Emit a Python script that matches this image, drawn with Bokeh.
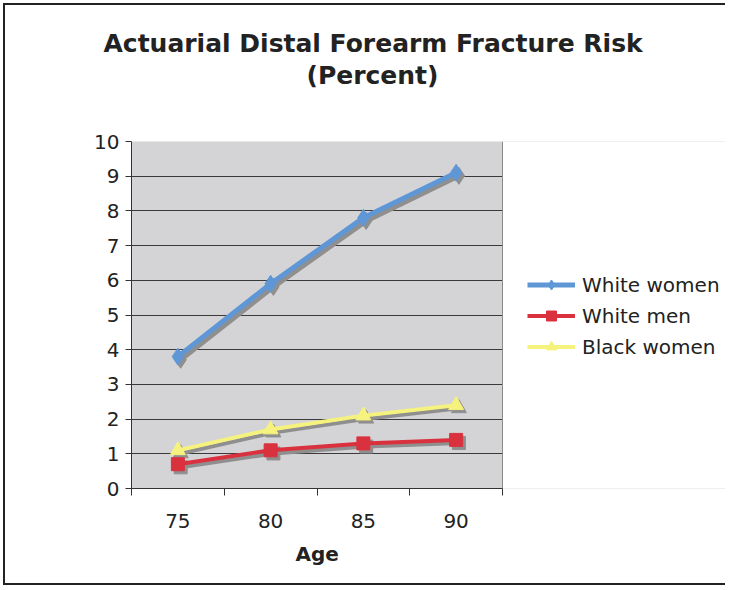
import numpy as np
from bokeh.plotting import figure
from bokeh.models import (Range1d, FixedTicker, Title, Legend, LegendItem,
                          BoxAnnotation, Span)
from bokeh.embed import file_html
from bokeh.resources import INLINE

# ---- data ----
ages = ["75", "80", "85", "90"]
white_women = [3.8, 5.9, 7.8, 9.1]
white_men = [0.7, 1.1, 1.3, 1.4]
black_women = [1.1, 1.7, 2.1, 2.4]
y_ticks = list(range(0, 11))

title_line1 = "Actuarial Distal Forearm Fracture Risk"
title_line2 = "(Percent)"
x_label = "Age"

FONT = "DejaVu Sans"

# ---- layout (pixels) ----
W, H = 722, 582
LEFT = 126
PLOT_W = 371          # width of the grey plot area
FRAME_W = W - LEFT    # frame spans to the right edge; legend sits at its right
n = len(ages)
x_end = n * FRAME_W / PLOT_W

x = np.arange(n) + 0.5
# drop-shadow offset (data units ~ 3px)
sdx, sdy = 0.03, -0.09

p = figure(width=W, height=H, output_backend="svg", toolbar_location=None,
           x_range=Range1d(0, x_end), y_range=Range1d(0, 10),
           min_border_left=LEFT, min_border_right=0, min_border_bottom=99,
           min_border_top=136, title=None)
p.styles = {"border-left": "2px solid #222", "border-top": "2px solid #222",
            "border-bottom": "2px solid #222", "border-right": "0px none",
            "margin-left": "3px", "margin-top": "3px"}

p.background_fill_color = "#d4d4d6"
p.border_fill_color = "white"
p.outline_line_color = None

# x axis: labels at category centers, tick marks at boundaries
xa = p.xaxis[0]
xa.bounds = (0, n)
xa.ticker = FixedTicker(ticks=list(x), minor_ticks=list(range(n + 1)))
xa.major_label_overrides = {float(v): a for v, a in zip(x, ages)}
xa.major_tick_out = 0
xa.major_tick_in = 0
xa.minor_tick_out = 7
xa.minor_tick_in = 0
xa.minor_tick_line_color = "#333333"
xa.axis_line_color = "#333333"
xa.major_label_standoff = 18
xa.major_label_text_font = FONT
xa.major_label_text_font_size = "20px"
xa.major_label_text_color = "#222222"

ya = p.yaxis[0]
ya.ticker = FixedTicker(ticks=y_ticks, minor_ticks=[])
ya.major_tick_out = 6
ya.major_tick_in = 0
ya.major_tick_line_color = "#333333"
ya.axis_line_color = "#333333"
ya.major_label_standoff = 6
ya.major_label_text_font = FONT
ya.major_label_text_font_size = "20px"
ya.major_label_text_color = "#222222"

p.xgrid.visible = False
p.ygrid.ticker = FixedTicker(ticks=y_ticks)
p.ygrid.grid_line_color = "#3a3a3a"
p.ygrid.grid_line_width = 1

# white area to the right of the grey plot area (legend region)
p.add_layout(BoxAnnotation(left=n, fill_color="white", fill_alpha=1.0,
                           line_color=None, level="underlay"))
p.add_layout(Span(location=n, dimension="height", line_color="#8a8a8a",
                  line_width=1, level="underlay"))

shadow = "#8f8f8f"
series = [
    ("White women", white_women, "#5f97d6", "diamond", 17, 5),
    ("White men", white_men, "#d9323e", "square", 13, 4),
    ("Black women", black_women, "#f6f27e", "triangle", 15, 4),
]

# shadows first
for name, vals, col, mk, sz, lw in series:
    vals = np.array(vals)
    p.line(x + sdx, vals + sdy, line_color=shadow, line_width=lw)
    p.scatter(x + sdx, vals + sdy, marker=mk, size=sz, fill_color=shadow, line_color=shadow)

items = []
for name, vals, col, mk, sz, lw in series:
    lr = p.line(x, vals, line_color=col, line_width=lw)
    mr = p.scatter(x, vals, marker=mk, size=sz, fill_color=col, line_color=col)
    items.append(LegendItem(label=name, renderers=[lr, mr]))

legend = Legend(items=items, location=(PLOT_W + 25, 129), margin=0, padding=0,
                glyph_width=48, glyph_height=25, label_standoff=7, spacing=6,
                label_text_font=FONT, label_text_font_size="20px",
                label_text_color="#222222", border_line_alpha=0,
                background_fill_alpha=0)
p.add_layout(legend)

# titles (stacked outward from the frame)
spacer = Title(text=" ", text_font_size="10px", standoff=39)
t2 = Title(text=title_line2, align="left", offset=175, text_font=FONT,
           text_font_size="25px", text_font_style="bold", text_color="#222222",
           standoff=0)
t1 = Title(text=title_line1, align="left", offset=-28, text_font=FONT,
           text_font_size="25px", text_font_style="bold", text_color="#222222",
           standoff=2)
p.add_layout(spacer, "above")
p.add_layout(t2, "above")
p.add_layout(t1, "above")

# x-axis title, centred under the grey plot area
age_title = Title(text=x_label, align="left", offset=164, text_font=FONT,
                  text_font_size="20px", text_font_style="bold",
                  text_color="#222222", vertical_align="top", standoff=22)
p.add_layout(age_title, "below")

open("out.html", "w").write(file_html(p, INLINE))
